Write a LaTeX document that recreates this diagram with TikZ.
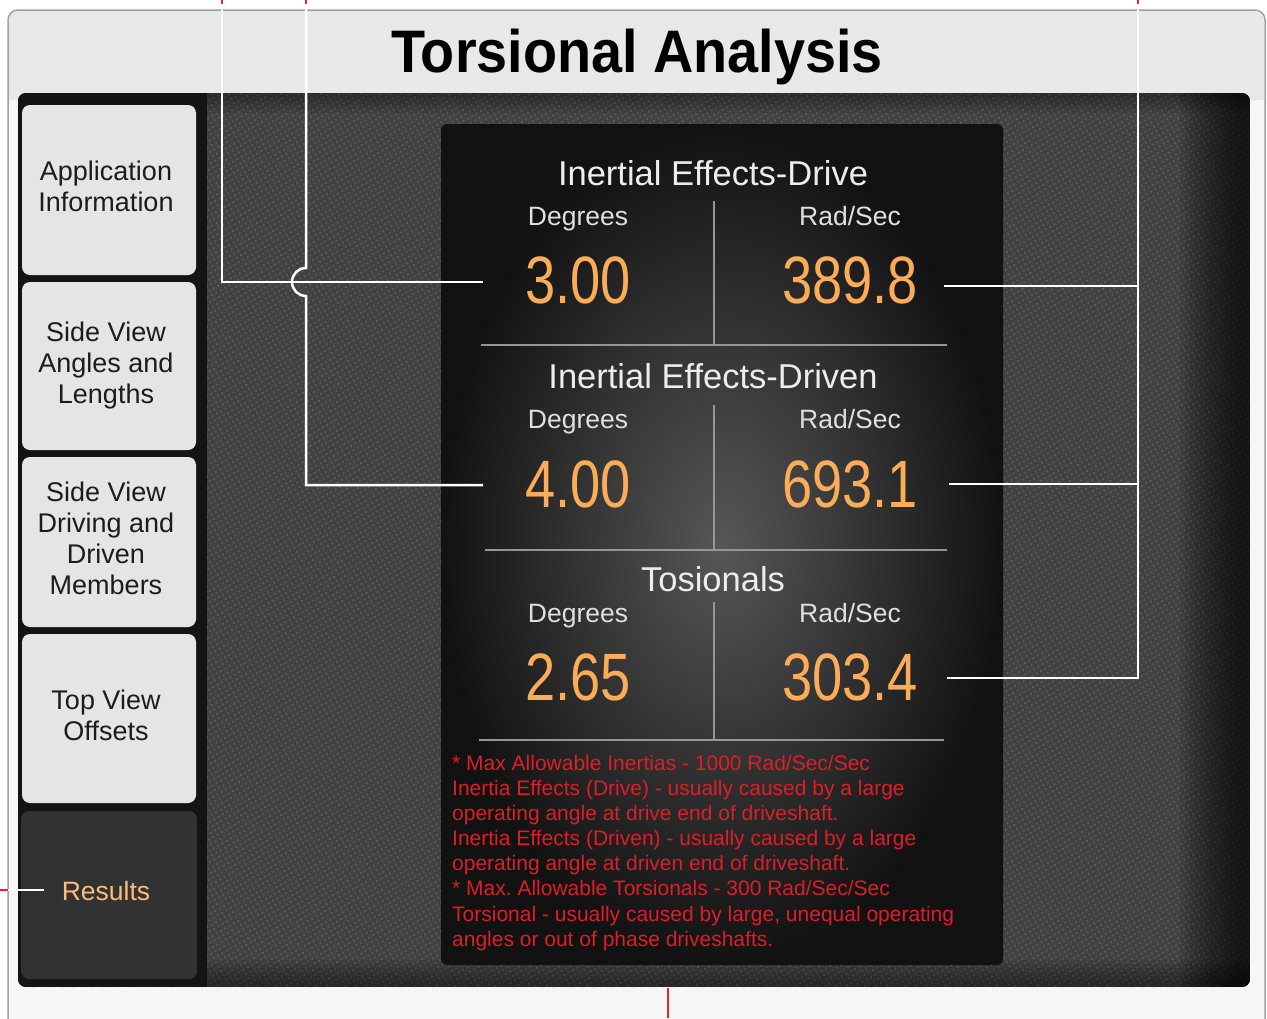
\documentclass[tikz,border=0pt]{standalone}
\usepackage{fontspec}
\setmainfont{Liberation Sans}
\usetikzlibrary{patterns.meta}
\definecolor{framebg}{RGB}{246,246,246}
\definecolor{titlebg}{RGB}{232,232,232}
\definecolor{frameline}{RGB}{160,160,160}
\definecolor{panelbg}{RGB}{66,66,66}
\definecolor{paneldot}{RGB}{92,92,92}
\definecolor{tabgray}{RGB}{229,229,229}
\definecolor{tabdark}{RGB}{50,50,50}
\definecolor{tabtext}{RGB}{28,28,28}
\definecolor{lcdcore}{RGB}{250,172,88}
\definecolor{divline}{RGB}{150,150,150}
\definecolor{notered}{RGB}{220,30,42}
\definecolor{calloutred}{RGB}{232,40,40}
\newcommand{\lcdval}[3]{%
  \node[lcdstyle] (#1) at (#2) {\scalebox{0.81}[1]{#3}};}
\begin{document}
\begin{tikzpicture}[x=1pt,y=-1pt,
  tabbox/.style={fill=tabgray, rounded corners=8pt},
  tablabel/.style={align=center, text=tabtext, font=\fontsize{27}{31}\selectfont, inner sep=0},
  heading/.style={anchor=base, text=white!93!black, font=\fontsize{34.5}{36}\selectfont, inner sep=0},
  unit/.style={anchor=base, text=white!88!black, font=\fontsize{26.5}{28}\selectfont, inner sep=0},
  lcdstyle/.style={anchor=base, text=lcdcore, font=\fontsize{67}{67}\selectfont, inner sep=0},
  divider/.style={draw=divline, line width=1.5pt},
  callout/.style={draw=white, line width=2.5pt},
  callred/.style={draw=calloutred, line width=2.5pt},
  notes/.style={align=left, text=notered, font=\fontsize{21}{25.1}\selectfont\frenchspacing, inner sep=0}]
\useasboundingbox (0,0) rectangle (1267,1018);
\clip (0,0) rectangle (1267,1018);
\fill[white] (0,0) rectangle (1267,1018);
% outer frame
\draw[frameline, fill=framebg, line width=1.5pt, rounded corners=10pt] (8,10) rectangle (1265,1040);
\begin{scope}
  \clip[rounded corners=10pt] (9,11) rectangle (1264,1040);
  \fill[titlebg] (0,0) rectangle (1267,100);
\end{scope}
\node[anchor=base, font=\fontsize{60}{60}\selectfont\bfseries, text=black, inner sep=0] (title) at (637,72) {\scalebox{0.93}[1]{Torsional Analysis}};
% dark textured panel
\begin{scope}
  \clip[rounded corners=8pt] (18,93) rectangle (1250,987);
  \fill[panelbg] (18,93) rectangle (1250,987);
  \fill[pattern={Dots[distance=5pt, radius=1.2pt, angle=30]}, pattern color=paneldot] (18,93) rectangle (1250,987);
  \foreach \i in {0,...,11}
    \fill[black, opacity=0.08] (1180+5*\i,93) rectangle (1250,987);
  \foreach \i in {0,...,5}
    \fill[black, opacity=0.07] (18,960+4*\i) rectangle (1250,987);
  \foreach \i in {0,...,4}
    \fill[black, opacity=0.07] (18,93) rectangle (1250,113-4*\i);
  \fill[black!92] (18,93) rectangle (207,987);
\end{scope}
% tabs
\fill[tabbox] (22,105) rectangle (196,275);
\fill[tabbox] (22,282) rectangle (196,450);
\fill[tabbox] (22,457) rectangle (196,627);
\fill[tabbox] (22,634) rectangle (196,803);
\fill[tabdark, rounded corners=8pt] (21,811) rectangle (197,979);
\node[tablabel] (tab1) at (106,186) {Application\\Information};
\node[tablabel] (tab2) at (106,366) {Side View\\Angles and\\Lengths};
\node[tablabel] (tab3) at (106,538) {Side View\\Driving and\\Driven\\Members};
\node[tablabel] (tab4) at (106,715) {Top View\\Offsets};
\node[anchor=base, text=lcdcore!80!white, font=\fontsize{26.5}{28}\selectfont, inner sep=0] (tab5) at (106,900) {Results};
% center results panel
\shade[inner color=black!66, outer color=black!93, rounded corners=6pt] (441,124) rectangle (1003,965);
% section 1
\node[heading] (h1) at (713,185) {Inertial Effects-Drive};
\node[unit] (d1) at (578,225) {Degrees};
\node[unit] (r1) at (850,225) {Rad/Sec};
\draw[divider] (714,201) -- (714,345);
\draw[divider] (481,345) -- (947,345);
\lcdval{v1}{578,303}{3.00}
\lcdval{w1}{850,303}{389.8}
% section 2
\node[heading] (h2) at (713,388) {Inertial Effects-Driven};
\node[unit] (d2) at (578,428) {Degrees};
\node[unit] (r2) at (850,428) {Rad/Sec};
\draw[divider] (714,405) -- (714,550);
\draw[divider] (485,550) -- (947,550);
\lcdval{v2}{578,507}{4.00}
\lcdval{w2}{850,507}{693.1}
% section 3
\node[heading] (h3) at (713,591) {Tosionals};
\node[unit] (d3) at (578,622) {Degrees};
\node[unit] (r3) at (850,622) {Rad/Sec};
\draw[divider] (714,602) -- (714,740);
\draw[divider] (479,740) -- (944,740);
\lcdval{v3}{578,700}{2.65}
\lcdval{w3}{850,700}{303.4}
% notes
\node[notes, anchor=north west] (notes) at (452,755) {* Max Allowable Inertias - 1000 Rad/Sec/Sec\\
Inertia Effects (Drive) - usually caused by a large\\
operating angle at drive end of driveshaft.\\
Inertia Effects (Driven) - usually caused by a large\\
operating angle at driven end of driveshaft.\\
* Max. Allowable Torsionals - 300 Rad/Sec/Sec\\
Torsional - usually caused by large, unequal operating\\
angles or out of phase driveshafts.};
% callout coordinates
\coordinate (a1) at (222,0);
\coordinate (a1e) at (483,282);
\coordinate (a2) at (306,0);
\coordinate (a2e) at (483,485);
\coordinate (b0) at (1138,0);
\coordinate (b1) at (944,286);
\coordinate (b2) at (949,484);
\coordinate (b3) at (947,678);
\coordinate (c0) at (0,890);
\coordinate (c1) at (44,890);
\coordinate (e0) at (668,988);
\coordinate (e1) at (668,1018);
% callouts
\draw[callout] (a1) |- (a1e);
\draw[callout] (a2) -- (306,268) arc[start angle=90, end angle=270, radius=14pt] |- (a2e);
\draw[callout] (b0) |- (b3);
\draw[callout] (b1) -- (b1 -| b0);
\draw[callout] (b2) -- (b2 -| b0);
\draw[callout] (c0) -- (c1);
\draw[callred] (a1) -- ++(0,4);
\draw[callred] (a2) -- ++(0,4);
\draw[callred] (b0) -- ++(0,4);
\draw[callred] (c0) -- ++(8,0);
\draw[callred] (e0) -- (e1);
\end{tikzpicture}
\end{document}
